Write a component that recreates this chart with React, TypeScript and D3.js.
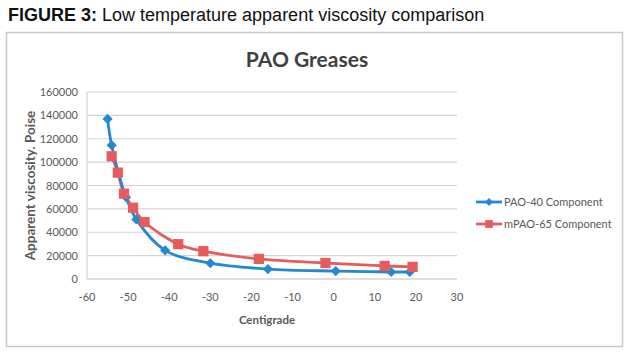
import React, { useEffect, useRef } from 'react';
import * as d3 from 'd3';

// Centigrade readings and apparent viscosity (Poise)
const pao40Temp = [-55, -54, -50.5, -48, -41, -30, -16, 0.5, 14, 18.5];
const pao40Visc = [137000, 114500, 70000, 51000, 24500, 13500, 8500, 6800, 6000, 6000];

const mpao65Temp = [-54, -52.5, -51, -48.8, -46, -37.8, -31.7, -18.2, -2, 12.4, 19.2];
const mpao65Visc = [105000, 91000, 73000, 61000, 48700, 29800, 23800, 17200, 13700, 11200, 10400];

const xTicks = [-60, -50, -40, -30, -20, -10, 0, 10, 20, 30];
const yTicks = [0, 20000, 40000, 60000, 80000, 100000, 120000, 140000, 160000];

const seriesNames = ['PAO-40 Component', 'mPAO-65 Component'];

const App = () => {
  const svgRef = useRef<SVGSVGElement>(null);

  useEffect(() => {
    const width = 629;
    const height = 352;
    const blue = '#2489d2';
    const red = '#e65c5c';
    const labelColor = '#595959';
    const font = 'Lato, "Open Sans", sans-serif';

    const svg = d3.select(svgRef.current);
    svg.selectAll('*').remove();
    svg.attr('width', width).attr('height', height);

    const margin = { top: 92, right: 172, bottom: 73, left: 87 };

    const x = d3.scaleLinear()
      .domain([-60, 30])
      .range([margin.left, width - margin.right]);

    const y = d3.scaleLinear()
      .domain([0, 160000])
      .range([height - margin.bottom, margin.top]);

    // Figure caption
    const cap = svg.append('text')
      .attr('x', 8)
      .attr('y', 21)
      .style('font-family', '"Liberation Sans", Arial, sans-serif')
      .style('font-size', '18px')
      .attr('fill', '#111');
    cap.append('tspan').style('font-weight', 'bold').text('FIGURE 3: ');
    cap.append('tspan').text('Low temperature apparent viscosity comparison');

    // Chart frame
    svg.append('rect')
      .attr('x', 6.5)
      .attr('y', 32.5)
      .attr('width', 616)
      .attr('height', 314)
      .attr('fill', '#fff')
      .attr('stroke', '#c8c8c8')
      .attr('stroke-width', 1.5);

    svg.append('text')
      .attr('x', 307)
      .attr('y', 67)
      .attr('text-anchor', 'middle')
      .style('font-family', font)
      .style('font-weight', 'bold')
      .style('font-size', '21px')
      .attr('fill', '#404040')
      .text('PAO Greases');

    const g = svg.append('g');

    // Gridlines
    g.selectAll('line.grid')
      .data(yTicks)
      .enter()
      .append('line')
      .attr('class', 'grid')
      .attr('x1', x(-60))
      .attr('x2', x(30))
      .attr('y1', d => y(d))
      .attr('y2', d => y(d))
      .attr('stroke', d => (d === 0 ? '#bfbfbf' : '#d4d4d4'))
      .attr('stroke-width', 1.2);

    g.append('line')
      .attr('x1', x(-60))
      .attr('x2', x(-60))
      .attr('y1', y(0))
      .attr('y2', y(160000))
      .attr('stroke', '#d4d4d4')
      .attr('stroke-width', 1.2);

    // Y axis labels
    g.selectAll('text.ytick')
      .data(yTicks)
      .enter()
      .append('text')
      .attr('class', 'ytick')
      .attr('x', x(-60) - 9)
      .attr('y', d => y(d) + 4)
      .attr('text-anchor', 'end')
      .style('font-family', font)
      .style('font-size', '11px')
      .attr('fill', labelColor)
      .text(d => d);

    // X axis labels
    g.selectAll('text.xtick')
      .data(xTicks)
      .enter()
      .append('text')
      .attr('class', 'xtick')
      .attr('x', d => x(d))
      .attr('y', y(0) + 22)
      .attr('text-anchor', 'middle')
      .style('font-family', font)
      .style('font-size', '11px')
      .attr('fill', labelColor)
      .text(d => d);

    g.append('text')
      .attr('x', 267)
      .attr('y', 324)
      .attr('text-anchor', 'middle')
      .style('font-family', font)
      .style('font-weight', 'bold')
      .style('font-size', '11.5px')
      .attr('fill', labelColor)
      .text('Centigrade');

    g.append('text')
      .attr('transform', `translate(35, ${y(80000)}) rotate(-90)`)
      .attr('text-anchor', 'middle')
      .style('font-family', font)
      .style('font-weight', 'bold')
      .style('font-size', '13.5px')
      .attr('fill', labelColor)
      .text('Apparent viscosity. Poise');

    const line = d3.line<[number, number]>()
      .x(d => x(d[0]))
      .y(d => y(d[1]))
      .curve(d3.curveCatmullRom.alpha(0.5));

    const pao40 = pao40Temp.map((t, i) => [t, pao40Visc[i]] as [number, number]);
    const mpao65 = mpao65Temp.map((t, i) => [t, mpao65Visc[i]] as [number, number]);

    g.append('path')
      .datum(mpao65)
      .attr('d', line)
      .attr('fill', 'none')
      .attr('stroke', red)
      .attr('stroke-width', 2.8);

    g.append('path')
      .datum(pao40)
      .attr('d', line)
      .attr('fill', 'none')
      .attr('stroke', blue)
      .attr('stroke-width', 2.8);

    const diamond = d3.symbol().type(d3.symbolDiamond2).size(66);
    const square = d3.symbol().type(d3.symbolSquare).size(105);

    g.selectAll('path.pao40')
      .data(pao40)
      .enter()
      .append('path')
      .attr('class', 'pao40')
      .attr('transform', d => `translate(${x(d[0])},${y(d[1])})`)
      .attr('d', diamond)
      .attr('fill', blue);

    g.selectAll('path.mpao65')
      .data(mpao65)
      .enter()
      .append('path')
      .attr('class', 'mpao65')
      .attr('transform', d => `translate(${x(d[0])},${y(d[1])})`)
      .attr('d', square)
      .attr('fill', red);

    // Legend
    const legend = svg.append('g');
    const legendColors = [blue, red];
    const legendY = [202, 224];
    seriesNames.forEach((name, i) => {
      const ly = legendY[i];
      legend.append('line')
        .attr('x1', 476)
        .attr('x2', 502)
        .attr('y1', ly)
        .attr('y2', ly)
        .attr('stroke', legendColors[i])
        .attr('stroke-width', 2.8);
      legend.append('path')
        .attr('transform', `translate(489,${ly})`)
        .attr('d', i === 0 ? d3.symbol().type(d3.symbolDiamond2).size(40)() : d3.symbol().type(d3.symbolSquare).size(60)())
        .attr('fill', legendColors[i]);
      legend.append('text')
        .attr('x', 504)
        .attr('y', ly + 4)
        .style('font-family', font)
        .style('font-size', '11px')
        .attr('fill', labelColor)
        .text(name);
    });
  }, []);

  return <svg ref={svgRef} style={{ position: 'absolute', left: 0, top: 0 }} />;
};

export default App;
